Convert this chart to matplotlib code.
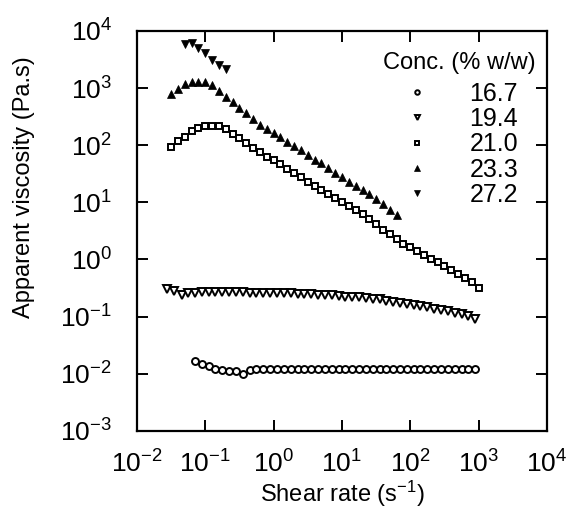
import matplotlib
matplotlib.use('Agg')
import matplotlib.pyplot as plt
from matplotlib.ticker import LogLocator, NullLocator

plt.rcParams['font.family'] = ['Liberation Sans', 'DejaVu Sans']
plt.rcParams['mathtext.default'] = 'regular'
plt.rcParams['axes.unicode_minus'] = False

# shear rate (1/s) and apparent viscosity (Pa.s) for each concentration
rate_167 = [0.071, 0.089, 0.112, 0.141, 0.178, 0.224, 0.282, 0.355, 0.447, 0.562,
            0.708, 0.891, 1.12, 1.41, 1.78, 2.24, 2.82, 3.55, 4.47, 5.62,
            7.08, 8.91, 11.2, 14.1, 17.8, 22.4, 28.2, 35.5, 44.7, 56.2,
            70.8, 89.1, 112, 141, 178, 224, 282, 355, 447, 562, 708, 891]
visc_167 = [0.0166, 0.0145, 0.0135, 0.0119, 0.0115, 0.0112, 0.0112, 0.0100, 0.0115, 0.0123,
            0.0123, 0.0123, 0.0123, 0.0123, 0.0123, 0.0123, 0.0123, 0.0123, 0.0123, 0.0123,
            0.0123, 0.0123, 0.0123, 0.0123, 0.0123, 0.0122, 0.0122, 0.0122, 0.0122, 0.0122,
            0.0122, 0.0122, 0.0122, 0.0121, 0.0121, 0.0121, 0.0121, 0.0121, 0.0121, 0.0120,
            0.0120, 0.0120]

rate_194 = [0.028, 0.035, 0.045, 0.056, 0.071, 0.089, 0.112, 0.141, 0.178, 0.224,
            0.282, 0.355, 0.447, 0.562, 0.708, 0.891, 1.12, 1.41, 1.78, 2.24,
            2.82, 3.55, 4.47, 5.62, 7.08, 8.91, 11.2, 14.1, 17.8, 22.4,
            28.2, 35.5, 44.7, 56.2, 70.8, 89.1, 112, 141, 178, 224,
            282, 355, 447, 562, 708, 891]
visc_194 = [0.309, 0.282, 0.240, 0.257, 0.263, 0.266, 0.269, 0.269, 0.269, 0.269,
            0.266, 0.266, 0.263, 0.263, 0.263, 0.260, 0.257, 0.257, 0.254, 0.251,
            0.248, 0.245, 0.243, 0.240, 0.234, 0.229, 0.224, 0.219, 0.216, 0.209,
            0.204, 0.200, 0.191, 0.182, 0.174, 0.166, 0.158, 0.151, 0.145, 0.138,
            0.132, 0.126, 0.117, 0.110, 0.102, 0.091]

rate_210 = [0.032, 0.040, 0.050, 0.063, 0.079, 0.100, 0.126, 0.158, 0.200, 0.251,
            0.316, 0.398, 0.501, 0.631, 0.794, 1.00, 1.26, 1.58, 2.00, 2.51,
            3.16, 3.98, 5.01, 6.31, 7.94, 10.0, 12.6, 15.8, 20.0, 25.1,
            31.6, 39.8, 50.1, 63.1, 79.4, 100, 126, 158, 200, 251,
            316, 398, 501, 631, 794, 1000]
visc_210 = [93, 117, 141, 174, 200, 219, 219, 214, 191, 158,
            132, 110, 91, 76, 63, 54, 46, 38, 32, 27.5,
            23, 19.5, 16.2, 13.8, 11.7, 10.0, 8.5, 7.2, 6.2, 5.1,
            4.2, 3.3, 2.75, 2.24, 1.9, 1.66, 1.41, 1.2, 1.02, 0.89,
            0.78, 0.66, 0.56, 0.48, 0.40, 0.32]

rate_233 = [0.032, 0.040, 0.050, 0.063, 0.079, 0.100, 0.126, 0.158, 0.200, 0.251,
            0.316, 0.398, 0.501, 0.631, 0.794, 1.00, 1.26, 1.58, 2.00, 2.51,
            3.16, 3.98, 5.01, 6.31, 7.94, 10.0, 12.6, 15.8, 20.0, 25.1,
            31.6, 39.8, 50.1, 63.1]
visc_233 = [776, 955, 1175, 1259, 1288, 1259, 1122, 891, 708, 562,
            457, 363, 288, 229, 191, 162, 138, 115, 98, 83,
            68, 56, 48, 40, 33, 28, 23, 19.5, 16.2, 13.8,
            11.5, 9.3, 7.4, 5.9]

rate_272 = [0.050, 0.063, 0.079, 0.100, 0.126, 0.158, 0.200]
visc_272 = [5870, 6240, 5130, 4100, 3100, 2530, 2140]

fig = plt.figure(figsize=(5.68, 5.08), dpi=100)
ax = fig.add_axes([0.241, 0.152, 0.722, 0.787])

mew = 1.4
ax.plot(rate_167, visc_167, 'o', ms=5, mfc='white', mec='black', mew=mew, label='16.7')
ax.plot(rate_194, visc_194, 'v', ms=5.5, mfc='white', mec='black', mew=mew, label='19.4')
ax.plot(rate_210, visc_210, 's', ms=5, mfc='white', mec='black', mew=mew, label='21.0')
ax.plot(rate_233, visc_233, '^', ms=6, mfc='black', mec='black', mew=0.5, label='23.3')
ax.plot(rate_272, visc_272, 'v', ms=6, mfc='black', mec='black', mew=0.5, label='27.2')

ax.set_xscale('log')
ax.set_yscale('log')
ax.set_xlim(1e-2, 1e4)
ax.set_ylim(1e-3, 1e4)
ax.xaxis.set_major_locator(LogLocator(base=10, numticks=10))
ax.yaxis.set_major_locator(LogLocator(base=10, numticks=10))
ax.xaxis.set_minor_locator(NullLocator())
ax.yaxis.set_minor_locator(NullLocator())

for s in ax.spines.values():
    s.set_linewidth(1.6)
ax.tick_params(which='major', direction='in', length=8, width=1.4,
               top=True, right=True, labelsize=19)
ax.tick_params(axis='x', pad=14)
ax.tick_params(axis='y', pad=18)

ax.set_xlabel('Shear rate (s$^{-1}$)', fontsize=17, labelpad=1)
ax.set_ylabel('Apparent viscosity (Pa.s)', fontsize=17)
ax.yaxis.set_label_coords(-0.248, 0.61)

# legend title drawn as text so it can stick out past the entries like the original
ax.text(0.972, 0.92, 'Conc. (% w/w)', transform=ax.transAxes,
        ha='right', va='center', fontsize=17)
ax.legend(loc='upper right', bbox_to_anchor=(0.93, 0.873), frameon=False,
          fontsize=18, markerscale=0.65, handlelength=1.0, handletextpad=1.6,
          labelspacing=0.05, borderaxespad=0.0, borderpad=0.0)

fig.savefig('out.png', dpi=100)
